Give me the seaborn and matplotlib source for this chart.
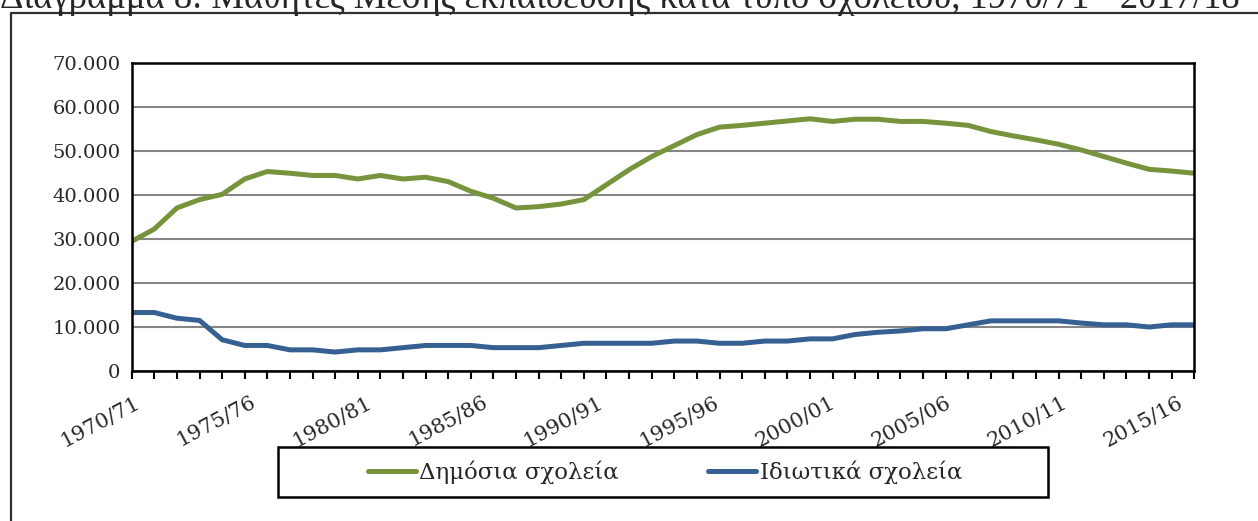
"""Students in secondary education by school type, 1970/71 - 2017/18."""

import matplotlib
matplotlib.use("Agg")
import matplotlib.pyplot as plt
import pandas as pd
import seaborn as sns
from matplotlib.lines import Line2D
from matplotlib.patches import Rectangle
from matplotlib.ticker import FuncFormatter
from matplotlib.transforms import ScaledTranslation

TITLE = "Διάγραμμα 8: Μαθητές Μέσης εκπαίδευσης κατά τύπο σχολείου, 1970/71 - 2017/18"

first_year = 1970
school_years = [f"{y}/{(y + 1) % 100:02d}" for y in range(first_year, 2018)]

public_schools = [
    29400, 32200, 37000, 38900, 40100, 43600, 45300, 44900, 44400, 44400,
    43600, 44400, 43600, 44000, 43000, 40800, 39200, 37000, 37300, 37900,
    38900, 42300, 45700, 48700, 51200, 53700, 55400, 55800, 56300, 56800,
    57300, 56700, 57200, 57200, 56700, 56700, 56300, 55800, 54400, 53400,
    52500, 51500, 50200, 48700, 47200, 45800, 45400, 44900,
]
private_schools = [
    13200, 13200, 11900, 11400, 7000, 5700, 5700, 4700, 4700, 4200,
    4700, 4700, 5200, 5700, 5700, 5700, 5200, 5200, 5200, 5700,
    6200, 6200, 6200, 6200, 6700, 6700, 6200, 6200, 6700, 6700,
    7200, 7200, 8200, 8700, 9000, 9500, 9500, 10400, 11300, 11300,
    11300, 11300, 10800, 10400, 10400, 9900, 10400, 10400,
]
series_names = ["Δημόσια σχολεία", "Ιδιωτικά σχολεία"]
colors = ["#77933C", "#376092"]


def main():
    df = pd.DataFrame({
        "idx": list(range(len(school_years))) * 2,
        "students": public_schools + private_schools,
        "series": [series_names[0]] * len(public_schools) + [series_names[1]] * len(private_schools),
    })

    sns.set_theme(style="white")
    plt.rcParams["font.family"] = ["DejaVu Serif"]

    W, H = 1258, 521
    fig = plt.figure(figsize=(W / 100, H / 100), dpi=100)
    left, right, top, bottom = 131.7, 1194.3, 63.0, 370.5
    ax = fig.add_axes([left / W, 1 - bottom / H, (right - left) / W, (bottom - top) / H])

    sns.lineplot(data=df, x="idx", y="students", hue="series",
                 palette=dict(zip(series_names, colors)), linewidth=3.6, ax=ax)

    ax.set_xlim(0, len(school_years) - 1)
    ax.set_ylim(0, 70000)
    ax.set_yticks(range(0, 70001, 10000))
    ax.yaxis.set_major_formatter(FuncFormatter(lambda v, _: f"{int(v):,}".replace(",", ".")))
    ax.set_xticks(range(len(school_years)))
    ax.set_xticklabels([s if i % 5 == 0 else "" for i, s in enumerate(school_years)],
                       rotation=28, ha="right", va="top", rotation_mode="anchor")
    ax.set_xlabel("")
    ax.set_ylabel("")
    ax.tick_params(axis="x", length=6, width=1.5, color="black", direction="out",
                   labelsize=15, pad=10, bottom=True)
    ax.tick_params(axis="y", length=0, labelsize=14, pad=8)
    ax.grid(axis="y", color="#868686", linewidth=1.5)
    ax.set_axisbelow(True)
    for sp in ax.spines.values():
        sp.set_color("black")
        sp.set_linewidth(1.8)

    # the original spreads its category labels a little wider than the ticks
    for i, lab in enumerate(ax.get_xticklabels()):
        shift = ScaledTranslation((3 + 0.55 * i) / 100, 0, fig.dpi_scale_trans)
        lab.set_transform(lab.get_transform() + shift)

    handles, labels = ax.get_legend_handles_labels()
    ax.get_legend().remove()
    fig.legend(handles, labels, loc="center", bbox_to_anchor=(665 / W, 1 - 472 / H),
               ncol=2, frameon=False, fontsize=16.5, handlelength=2.1,
               columnspacing=3.9, handletextpad=0.15)
    fig.add_artist(Rectangle((278 / W, 1 - 497 / H), 770 / W, 50 / H,
                             transform=fig.transFigure, fill=False,
                             edgecolor="black", linewidth=1.8))

    # outer chart-area border (only left and top visible in the crop)
    fig.add_artist(Line2D([11 / W, 11 / W, 1.0], [0.0, 1 - 13 / H, 1 - 13 / H],
                          transform=fig.transFigure, color="#303030", linewidth=1.6))

    # title, cut off at the top of the image
    title = fig.text(0.0, 1 - 8 / H, TITLE, ha="left", va="baseline", fontsize=20,
                     family=["Liberation Serif", "DejaVu Serif"])
    fig.canvas.draw()
    width = title.get_window_extent().width
    title.set_fontsize(20 * 1240 / width)

    fig.savefig("out.png", dpi=100)


if __name__ == "__main__":
    main()
